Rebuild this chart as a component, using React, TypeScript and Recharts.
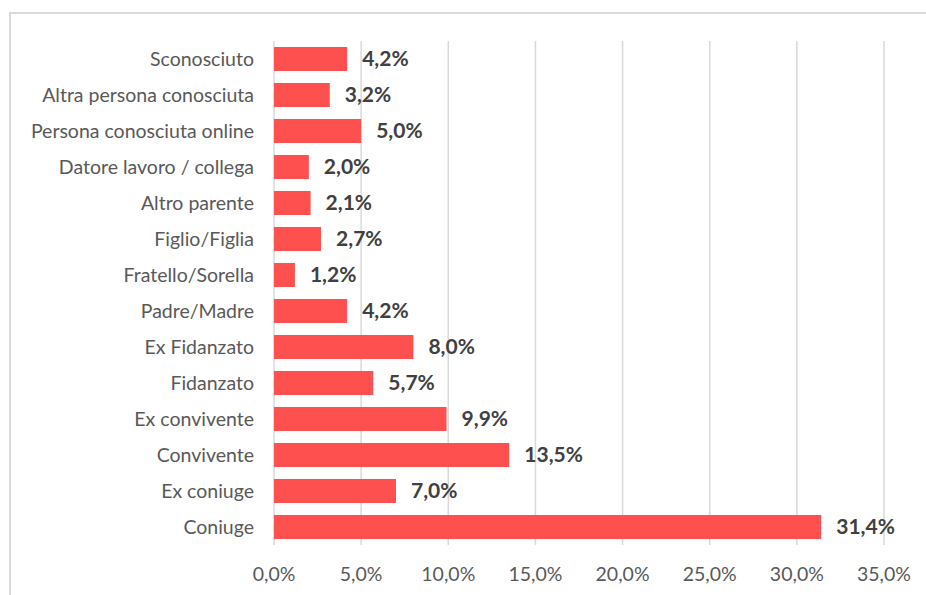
import { BarChart, Bar, XAxis, YAxis, CartesianGrid, LabelList } from 'recharts';

const categories = [
  'Sconosciuto',
  'Altra persona conosciuta',
  'Persona conosciuta online',
  'Datore lavoro / collega',
  'Altro parente',
  'Figlio/Figlia',
  'Fratello/Sorella',
  'Padre/Madre',
  'Ex Fidanzato',
  'Fidanzato',
  'Ex convivente',
  'Convivente',
  'Ex coniuge',
  'Coniuge',
];

const shares = [4.2, 3.2, 5.0, 2.0, 2.1, 2.7, 1.2, 4.2, 8.0, 5.7, 9.9, 13.5, 7.0, 31.4];

const xTicks = [0, 5, 10, 15, 20, 25, 30, 35];

const data = categories.map((name, i) => ({ name, value: shares[i] }));

const FONT = 'Lato, "Open Sans", sans-serif';

const pct = (v: number) => `${v.toFixed(1).replace('.', ',')}%`;

export default function App() {
  return (
    <div
      style={{
        position: 'fixed',
        left: 0,
        top: 0,
        width: 926,
        height: 595,
        overflow: 'hidden',
        background: '#fff',
        fontFamily: FONT,
      }}
    >
      <div
        style={{
          position: 'absolute',
          left: 9,
          top: 12,
          width: 1000,
          height: 1000,
          border: '2px solid #dadada',
        }}
      />
      <div style={{ position: 'absolute', left: 0, top: 0 }}>
        <BarChart
          width={926}
          height={595}
          data={data}
          layout="vertical"
          margin={{ top: 41, right: 42, bottom: 0, left: 0 }}
          barSize={24}
        >
          <CartesianGrid horizontal={false} stroke="#d9d9d9" strokeWidth={1.5} />
          <XAxis
            type="number"
            domain={[0, 35]}
            ticks={xTicks}
            interval={0}
            axisLine={false}
            tickLine={false}
            tickSize={0}
            tickMargin={22}
            height={50}
            tickFormatter={pct}
            tick={{ fill: '#595959', fontSize: 19.5, fontFamily: FONT }}
          />
          <YAxis
            type="category"
            dataKey="name"
            width={274}
            interval={0}
            axisLine={false}
            tickLine={false}
            tickSize={0}
            tickMargin={20}
            tick={{ fill: '#595959', fontSize: 19.5, fontFamily: FONT }}
          />
          <Bar dataKey="value" fill="#FF5050" isAnimationActive={false}>
            <LabelList
              dataKey="value"
              position="right"
              offset={15}
              formatter={(v: number) => pct(v)}
              style={{ fill: '#404040', fontSize: 21, fontWeight: 700, fontFamily: FONT }}
            />
          </Bar>
        </BarChart>
      </div>
    </div>
  );
}
